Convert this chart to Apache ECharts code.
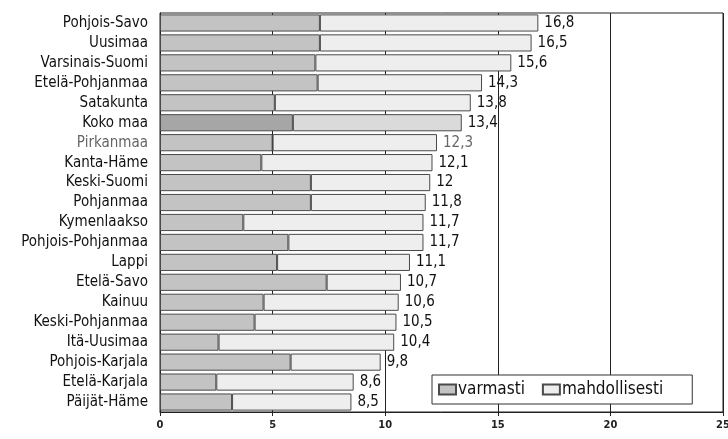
<!DOCTYPE html>
<html>
<head>
<meta charset="utf-8">
<script src="https://cdn.jsdelivr.net/npm/echarts@6/dist/echarts.min.js"></script>
<style>
  html, body { margin: 0; padding: 0; background: #fff; }
  #chart { width: 728px; height: 439px; }
</style>
</head>
<body>
<div id="chart"></div>
<script>
// Regions, top to bottom
const regions = [
  'Pohjois-Savo', 'Uusimaa', 'Varsinais-Suomi', 'Etelä-Pohjanmaa', 'Satakunta',
  'Koko maa', 'Pirkanmaa', 'Kanta-Häme', 'Keski-Suomi', 'Pohjanmaa',
  'Kymenlaakso', 'Pohjois-Pohjanmaa', 'Lappi', 'Etelä-Savo', 'Kainuu',
  'Keski-Pohjanmaa', 'Itä-Uusimaa', 'Pohjois-Karjala', 'Etelä-Karjala', 'Päijät-Häme'
];

// "varmasti" share
const varmasti = [
  7.1, 7.1, 6.9, 7.0, 5.1,
  5.9, 5.0, 4.5, 6.7, 6.7,
  3.7, 5.7, 5.2, 7.4, 4.6,
  4.2, 2.6, 5.8, 2.5, 3.2
];

// totals printed at the bar ends
const totals = [
  16.8, 16.5, 15.6, 14.3, 13.8,
  13.4, 12.3, 12.1, 12, 11.8,
  11.7, 11.7, 11.1, 10.7, 10.6,
  10.5, 10.4, 9.8, 8.6, 8.5
];

const xTicks = [0, 5, 10, 15, 20, 25];

const FONT = '"Liberation Sans Narrow", "DejaVu Sans Condensed", "Arial Narrow", sans-serif';
const highlight = 'Koko maa';
const dimmed = 'Pirkanmaa';

// mahdollisesti = total - varmasti
const mahdollisesti = totals.map((t, i) => Math.round((t - varmasti[i]) * 10) / 10);

function fmt(v) {
  return String(v).replace('.', ',');
}

const chart = echarts.init(document.getElementById('chart'), null, { renderer: 'canvas' });

const option = {
  backgroundColor: '#fff',
  animation: false,
  textStyle: { fontFamily: FONT },
  grid: {
    left: 160, right: 5, top: 13, bottom: 27,
    show: true, borderColor: '#222', borderWidth: 1,
    containLabel: false,
    outerBoundsMode: 'none'
  },
  legend: {
    left: 432, top: 375,
    padding: [6, 29, 6, 6],
    backgroundColor: '#fff',
    borderColor: '#333', borderWidth: 1,
    itemWidth: 17, itemHeight: 10, itemGap: 17,
    icon: 'rect',
    textStyle: { fontFamily: FONT, fontSize: 17, color: '#111', padding: [0, 0, 0, -3] },
    data: ['varmasti', 'mahdollisesti']
  },
  xAxis: {
    type: 'value',
    min: xTicks[0], max: xTicks[xTicks.length - 1], interval: 5,
    axisLine: { show: true, lineStyle: { color: '#222', width: 1 } },
    axisTick: { show: true, length: 4, lineStyle: { color: '#222' } },
    axisLabel: { fontFamily: FONT, fontSize: 11, fontWeight: 'bold', color: '#222', margin: 8 },
    splitLine: { show: true, lineStyle: { color: '#222', width: 1 } }
  },
  yAxis: {
    type: 'category',
    inverse: true,
    data: regions,
    axisLine: { show: true, lineStyle: { color: '#222' } },
    axisTick: { show: false },
    axisLabel: {
      fontFamily: FONT, fontSize: 15, color: '#111', margin: 12,
      formatter: v => v === dimmed ? '{dim|' + v + '}' : v,
      rich: { dim: { fontFamily: FONT, fontSize: 15, color: '#666' } }
    }
  },
  series: [
    {
      name: 'varmasti',
      type: 'bar',
      stack: 'all',
      barCategoryGap: '14%',
      itemStyle: { color: '#c3c3c3', borderColor: '#4a4a4a', borderWidth: 1 },
      data: varmasti.map((v, i) => regions[i] === highlight
        ? { value: v, itemStyle: { color: '#a6a6a6' } }
        : v)
    },
    {
      name: 'mahdollisesti',
      type: 'bar',
      stack: 'all',
      barCategoryGap: '14%',
      itemStyle: { color: '#eeeeee', borderColor: '#4a4a4a', borderWidth: 1 },
      label: {
        show: true, position: 'right', distance: 6,
        fontFamily: FONT, fontSize: 15, color: '#111',
        formatter: p => fmt(totals[p.dataIndex])
      },
      data: mahdollisesti.map((v, i) => {
        if (regions[i] === highlight) return { value: v, itemStyle: { color: '#dadada' } };
        if (regions[i] === dimmed) return { value: v, label: { color: '#666' } };
        return v;
      })
    }
  ]
};

chart.setOption(option);
</script>
</body>
</html>
